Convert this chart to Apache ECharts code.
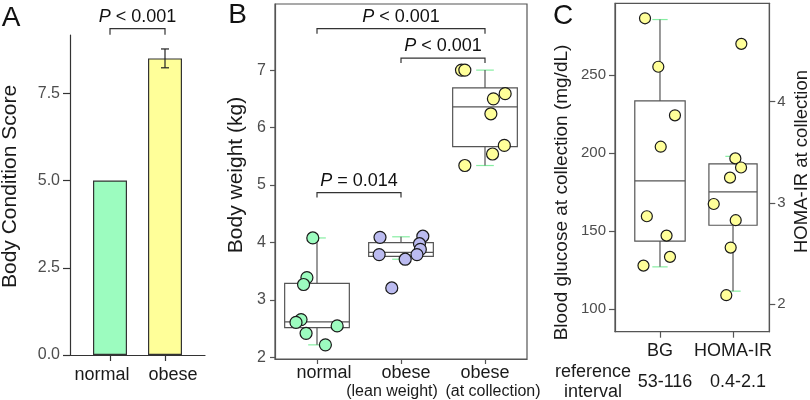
<!DOCTYPE html>
<html><head><meta charset="utf-8">
<script src="https://cdn.jsdelivr.net/npm/echarts@6/dist/echarts.min.js"></script>
<style>html,body{margin:0;padding:0;background:#fff}#c{width:810px;height:400px}</style>
</head><body><div id="c"></div>
<script>
// ---------- Panel A: Body Condition Score ----------
const bcsCategories = ['normal', 'obese'];
const bcsMeans = [5.0, 8.5];
const bcsErrLow = [5.0, 8.23];
const bcsErrHigh = [5.0, 8.77];
const bcsTicks = [0, 2.5, 5, 7.5];
const bcsBracketFrom = [0];
const bcsBracketTo = [1];
const bcsBracketY = [9.35];
const bcsBracketText = ['< 0.001'];

// ---------- Panel B: Body weight ----------
const bwCategories = ['normal', 'obese\n(lean weight)', 'obese\n(at collection)'];
const bwNormal = [4.08, 3.39, 3.27, 2.66, 2.61, 2.55, 2.42, 2.22];
const bwNormalJitter = [-0.05, -0.12, -0.16, -0.19, -0.25, 0.24, -0.13, 0.10];
const bwLean = [4.09, 4.11, 3.98, 3.88, 3.79, 3.79, 3.71, 3.21];
const bwLeanJitter = [-0.25, 0.26, 0.22, 0.23, 0.19, -0.26, 0.05, -0.11];
const bwCollection = [7.0, 7.0, 6.59, 6.50, 6.24, 5.69, 5.54, 5.34];
const bwCollectionJitter = [-0.28, -0.24, 0.24, 0.10, 0.07, 0.23, 0.09, -0.24];
const bwBoxLow = [2.22, 3.71, 5.34];
const bwBoxQ1 = [2.52, 3.76, 5.67];
const bwBoxMedian = [2.62, 3.83, 6.36];
const bwBoxQ3 = [3.29, 4.00, 6.69];
const bwBoxHigh = [4.08, 4.10, 7.00];
const bwTicks = [2, 3, 4, 5, 6, 7];
const bwBracketFrom = [0, 1, 0];
const bwBracketTo = [2, 2, 1];
const bwBracketY = [7.72, 7.21, 4.87];
const bwBracketText = ['< 0.001', '< 0.001', '= 0.014'];

// ---------- Panel C: Blood glucose / HOMA-IR ----------
const cCategories = ['BG', 'HOMA-IR'];
const cCategoryIndex = [0, 1];
const cRefIntervals = ['53-116', '0.4-2.1'];
const bgValues = [286.3, 255.3, 224.2, 204.1, 159.6, 147.2, 133.6, 128.0];
const bgJitter = [-0.205, -0.023, 0.205, 0.01, -0.18, 0.09, 0.137, -0.226];
const homaValues = [4.57, 3.44, 3.35, 3.25, 2.99, 2.83, 2.56, 2.09];
const homaJitter = [0.114, 0.032, 0.11, -0.041, -0.264, 0.037, -0.032, -0.092];
const bgBox = [127.2, 143.7, 182.2, 233.4, 285.5];
const homaBox = [2.13, 2.78, 3.11, 3.385, 3.46];
const bgTicks = [100, 150, 200, 250];
const homaTicks = [2, 3, 4];

// ---------- styles ----------
const F = '"Liberation Sans", Arial, Helvetica, sans-serif';
const GREEN = '#9cfcbf', YELLOW = '#ffff99', PURPLE = '#bbbbf0';
const CAP = '#86eea2';
const AX = '#555555';
const TICKTXT = '#4d4d4d';
const TXT = '#1a1a1a';

function boxRender(widthFrac, capFrac) {
  return function (params, api) {
    const x = api.value(0);
    const lo = api.coord([x, api.value(1)]);
    const q1 = api.coord([x, api.value(2)]);
    const md = api.coord([x, api.value(3)]);
    const q3 = api.coord([x, api.value(4)]);
    const hi = api.coord([x, api.value(5)]);
    const w = api.size([widthFrac, 0])[0];
    const cw = api.size([capFrac, 0])[0];
    const cx = lo[0];
    const ls = { stroke: AX, lineWidth: 1.2 };
    const cs = { stroke: CAP, lineWidth: 1.2 };
    return { type: 'group', children: [
      { type: 'line', shape: { x1: cx - cw / 2, y1: hi[1], x2: cx + cw / 2, y2: hi[1] }, style: cs },
      { type: 'line', shape: { x1: cx - cw / 2, y1: lo[1], x2: cx + cw / 2, y2: lo[1] }, style: cs },
      { type: 'line', shape: { x1: cx, y1: hi[1], x2: cx, y2: q3[1] }, style: ls },
      { type: 'line', shape: { x1: cx, y1: q1[1], x2: cx, y2: lo[1] }, style: ls },
      { type: 'rect', shape: { x: cx - w / 2, y: q3[1], width: w, height: q1[1] - q3[1] }, style: { fill: 'rgba(0,0,0,0)', stroke: AX, lineWidth: 1.2 } },
      { type: 'line', shape: { x1: cx - w / 2, y1: md[1], x2: cx + w / 2, y2: md[1] }, style: ls }
    ] };
  };
}

function bracketRender(texts, drop) {
  return function (params, api) {
    const i = params.dataIndex;
    const p1 = api.coord([api.value(0), api.value(2)]);
    const p2 = api.coord([api.value(1), api.value(2)]);
    return { type: 'group', children: [
      { type: 'polyline', shape: { points: [[p1[0], p1[1] + drop], [p1[0], p1[1]], [p2[0], p2[1]], [p2[0], p2[1] + drop]] },
        style: { stroke: '#333', lineWidth: 1.2, fill: null } },
      { type: 'text', x: (p1[0] + p2[0]) / 2, y: p1[1] - 12,
        style: { text: '{i|P} ' + texts[i], fontSize: 18, fontFamily: F, fill: '#111', align: 'center', verticalAlign: 'middle',
          rich: { i: { fontStyle: 'italic', fontSize: 18, fontFamily: F, fill: '#111' } } } }
    ] };
  };
}

function errRender(params, api) {
  const x = api.value(0);
  const lo = api.coord([x, api.value(1)]);
  const hi = api.coord([x, api.value(2)]);
  const s = { stroke: '#222', lineWidth: 1.2 };
  return { type: 'group', children: [
    { type: 'line', shape: { x1: lo[0], y1: lo[1], x2: hi[0], y2: hi[1] }, style: s },
    { type: 'line', shape: { x1: lo[0] - 4, y1: lo[1], x2: lo[0] + 4, y2: lo[1] }, style: s },
    { type: 'line', shape: { x1: hi[0] - 4, y1: hi[1], x2: hi[0] + 4, y2: hi[1] }, style: s }
  ] };
}

const yTickLabel = (size) => ({ fontSize: size, color: TICKTXT, fontFamily: F });
const pointStyle = (c) => ({ color: c, borderColor: '#1a1a1a', borderWidth: 1.2, opacity: 1 });
const lbl = (size, extra) => Object.assign({ fontSize: size, color: TXT, fontFamily: F }, extra || {});

const option = {
  animation: false,
  backgroundColor: '#fff',
  grid: [
    { left: 70, top: 35, width: 135, height: 320 },
    { left: 82.5, top: 35, width: 110, height: 320 },
    { left: 275, top: 4, width: 252, height: 356, show: true, borderColor: AX, borderWidth: 1.2, backgroundColor: 'transparent' },
    { left: 615, top: 3.3, width: 154.3, height: 328.4, show: true, borderColor: AX, borderWidth: 1.2, backgroundColor: 'transparent' }
  ],
  xAxis: [
    { gridIndex: 0, type: 'value', min: 0, max: 1, axisLine: { show: true, lineStyle: { color: '#333', width: 1.2 } },
      axisTick: { show: false }, axisLabel: { show: false }, splitLine: { show: false } },
    { gridIndex: 1, type: 'category', data: bcsCategories, axisLine: { show: false },
      axisTick: { show: true, alignWithLabel: true, length: 6, lineStyle: { color: '#333', width: 1.2 } },
      axisLabel: { margin: 11, interval: 0, hideOverlap: false,
        formatter: (v, idx) => '{a' + idx + '|' + v + '}',
        rich: { a0: lbl(18, { padding: [0, 16, 0, 0] }), a1: lbl(18, { padding: [0, 0, 0, 16] }) } } },
    { gridIndex: 2, type: 'category', data: bwCategories, axisLine: { show: true, onZero: false, lineStyle: { color: AX, width: 1.2 } },
      axisTick: { show: true, alignWithLabel: true, length: 5, lineStyle: { color: AX, width: 1.2 } },
      axisLabel: { margin: 5, interval: 0, hideOverlap: false,
        formatter: (v, idx) => { const p = v.split('\n'); return p.length > 1 ? '{a' + idx + '|' + p[0] + '}\n{b' + idx + '|' + p[1] + '}' : '{a' + idx + '|' + p[0] + '}'; },
        rich: {
          a0: lbl(18, { lineHeight: 19, padding: [0, 0, 0, 14] }),
          a1: lbl(18, { lineHeight: 19, padding: [0, 0, 0, 10] }),
          b1: lbl(16, { lineHeight: 18, padding: [0, 18, 0, 0] }),
          a2: lbl(18, { lineHeight: 19 }),
          b2: lbl(16, { lineHeight: 18, padding: [0, 0, 0, 16] })
        } } },
    { gridIndex: 2, type: 'value', min: -0.5, max: 2.5, show: false },
    { gridIndex: 3, type: 'value', min: -0.616, max: 1.497, splitLine: { show: false },
      axisLine: { show: true, onZero: false, lineStyle: { color: AX, width: 1.2 } },
      axisTick: { show: true, length: 6, customValues: cCategoryIndex, lineStyle: { color: AX, width: 1.2 } },
      axisLabel: { margin: 9, customValues: cCategoryIndex, hideOverlap: false, showMinLabel: true, showMaxLabel: true,
        formatter: v => { const i = Math.round(v); return '{a' + i + '|' + cCategories[i] + '}\n{b' + i + '|' + cRefIntervals[i] + '}'; },
        rich: {
          a0: lbl(18, { lineHeight: 20 }),
          b0: lbl(18, { lineHeight: 43, padding: [0, 0, 0, 10] }),
          a1: lbl(18, { lineHeight: 20 }),
          b1: lbl(18, { lineHeight: 43, padding: [0, 0, 0, 10] })
        } } }
  ],
  yAxis: [
    { gridIndex: 0, type: 'value', min: 0, max: 9.17, axisLine: { show: true, onZero: false, lineStyle: { color: '#333', width: 1.2 } },
      axisTick: { show: true, length: 7, customValues: bcsTicks, lineStyle: { color: '#333', width: 1.2 } },
      axisLabel: Object.assign({ customValues: bcsTicks, margin: 10, formatter: v => Number(v).toFixed(1) }, yTickLabel(16)),
      splitLine: { show: false } },
    { gridIndex: 1, type: 'value', min: 0, max: 9.17, show: false },
    { gridIndex: 2, type: 'value', min: 1.974, max: 8.15, axisLine: { show: true, onZero: false, lineStyle: { color: AX, width: 1.2 } },
      axisTick: { show: true, length: 5, customValues: bwTicks, lineStyle: { color: AX, width: 1.2 } },
      axisLabel: Object.assign({ customValues: bwTicks, margin: 9 }, yTickLabel(16)),
      splitLine: { show: false } },
    { gridIndex: 3, type: 'value', min: 85.7, max: 295.9, axisLine: { show: true, onZero: false, lineStyle: { color: AX, width: 1.2 } },
      axisTick: { show: true, length: 6, customValues: bgTicks, lineStyle: { color: AX, width: 1.2 } },
      axisLabel: Object.assign({ customValues: bgTicks, margin: 9 }, yTickLabel(15)),
      splitLine: { show: false } },
    { gridIndex: 3, type: 'value', position: 'right', min: 1.73, max: 4.97, axisLine: { show: true, onZero: false, lineStyle: { color: AX, width: 1.2 } },
      axisTick: { show: true, length: 6, customValues: homaTicks, lineStyle: { color: AX, width: 1.2 } },
      axisLabel: Object.assign({ customValues: homaTicks, margin: 8 }, yTickLabel(15)),
      splitLine: { show: false } }
  ],
  series: [
    // Panel A
    { type: 'bar', xAxisIndex: 1, yAxisIndex: 1, barWidth: 34, z: 2,
      data: bcsMeans.map((v, i) => ({ value: v, itemStyle: { color: i === 0 ? GREEN : YELLOW, borderColor: '#333', borderWidth: 1.2 } })) },
    { type: 'custom', xAxisIndex: 1, yAxisIndex: 1, z: 3, renderItem: errRender,
      data: bcsMeans.map((v, i) => [i, bcsErrLow[i], bcsErrHigh[i]]).filter(d => d[2] > d[1]) },
    { type: 'custom', xAxisIndex: 1, yAxisIndex: 1, z: 3, clip: false, renderItem: bracketRender(bcsBracketText, 6),
      data: bcsBracketY.map((y, i) => [bcsBracketFrom[i], bcsBracketTo[i], y]) },
    // Panel B
    { type: 'custom', xAxisIndex: 3, yAxisIndex: 2, z: 2, renderItem: boxRender(0.77, 0.21),
      data: bwBoxLow.map((v, i) => [i, bwBoxLow[i], bwBoxQ1[i], bwBoxMedian[i], bwBoxQ3[i], bwBoxHigh[i]]) },
    { type: 'scatter', xAxisIndex: 3, yAxisIndex: 2, z: 4, symbolSize: 12, itemStyle: pointStyle(GREEN),
      data: bwNormal.map((v, i) => [0 + bwNormalJitter[i], v]) },
    { type: 'scatter', xAxisIndex: 3, yAxisIndex: 2, z: 4, symbolSize: 12, itemStyle: pointStyle(PURPLE),
      data: bwLean.map((v, i) => [1 + bwLeanJitter[i], v]) },
    { type: 'scatter', xAxisIndex: 3, yAxisIndex: 2, z: 4, symbolSize: 12, itemStyle: pointStyle(YELLOW),
      data: bwCollection.map((v, i) => [2 + bwCollectionJitter[i], v]) },
    { type: 'custom', xAxisIndex: 3, yAxisIndex: 2, z: 3, clip: false, renderItem: bracketRender(bwBracketText, 5),
      data: bwBracketY.map((y, i) => [bwBracketFrom[i], bwBracketTo[i], y]) },
    // Panel C
    { type: 'custom', xAxisIndex: 4, yAxisIndex: 3, z: 2, renderItem: boxRender(0.69, 0.21), data: [[cCategoryIndex[0]].concat(bgBox)] },
    { type: 'custom', xAxisIndex: 4, yAxisIndex: 4, z: 2, renderItem: boxRender(0.66, 0.21), data: [[cCategoryIndex[1]].concat(homaBox)] },
    { type: 'scatter', xAxisIndex: 4, yAxisIndex: 3, z: 4, symbolSize: 11, itemStyle: pointStyle(YELLOW),
      data: bgValues.map((v, i) => [cCategoryIndex[0] + bgJitter[i], v]) },
    { type: 'scatter', xAxisIndex: 4, yAxisIndex: 4, z: 4, symbolSize: 11, itemStyle: pointStyle(YELLOW),
      data: homaValues.map((v, i) => [cCategoryIndex[1] + homaJitter[i], v]) }
  ],
  graphic: [
    { type: 'text', x: 11, y: 18, style: { text: 'A', fontSize: 28, fontFamily: F, fill: '#111', align: 'center', verticalAlign: 'middle' } },
    { type: 'text', x: 237.5, y: 15, style: { text: 'B', fontSize: 28, fontFamily: F, fill: '#111', align: 'center', verticalAlign: 'middle' } },
    { type: 'text', x: 563, y: 16.5, style: { text: 'C', fontSize: 28, fontFamily: F, fill: '#111', align: 'center', verticalAlign: 'middle' } },
    { type: 'text', x: 10, y: 186.5, rotation: Math.PI / 2, style: { text: 'Body Condition Score', fontSize: 21, fontFamily: F, fill: TXT, align: 'center', verticalAlign: 'middle' } },
    { type: 'text', x: 236, y: 175, rotation: Math.PI / 2, style: { text: 'Body weight (kg)', fontSize: 21, fontFamily: F, fill: TXT, align: 'center', verticalAlign: 'middle' } },
    { type: 'text', x: 562, y: 192.5, rotation: Math.PI / 2, style: { text: 'Blood glucose at collection (mg/dL)', fontSize: 19, fontFamily: F, fill: TXT, align: 'center', verticalAlign: 'middle' } },
    { type: 'text', x: 802, y: 161.5, rotation: Math.PI / 2, style: { text: 'HOMA-IR at collection', fontSize: 18.5, fontFamily: F, fill: TXT, align: 'center', verticalAlign: 'middle' } },
    { type: 'text', x: 593, y: 381.7, style: { text: 'reference\ninterval', fontSize: 18, lineHeight: 20, fontFamily: F, fill: TXT, align: 'center', verticalAlign: 'middle' } }
  ]
};

const chart = echarts.init(document.getElementById('c'), null, { renderer: 'canvas' });
chart.setOption(option);
</script>
</body></html>
